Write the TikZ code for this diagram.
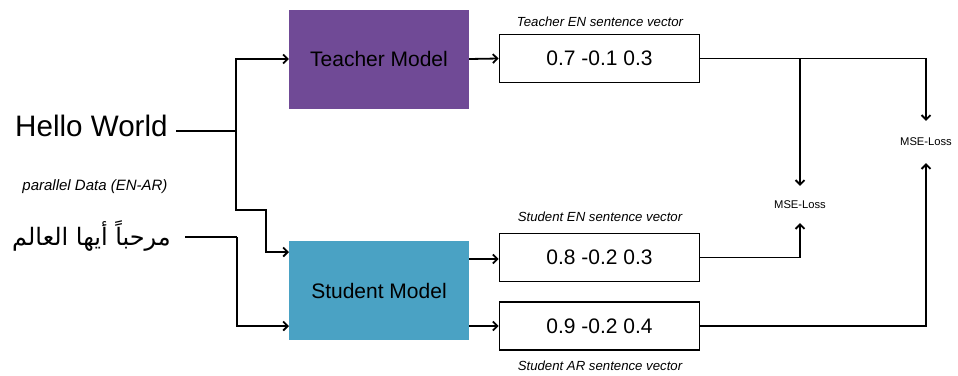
\documentclass[tikz,border=0pt]{standalone}
\usepackage{fontspec}
\setmainfont{Liberation Sans}
\newfontfamily\arabicfont[Script=Arabic]{DejaVu Sans}
\TeXXeTstate=1
\usetikzlibrary{arrows.meta}
\definecolor{teachcol}{RGB}{112,74,150}
\definecolor{studcol}{RGB}{74,162,196}
\tikzset{
  modelbox/.style={minimum width=180pt, minimum height=99pt, inner sep=0pt, font=\fontsize{21}{24}\selectfont},
  vecbox/.style={draw=black, line width=1.8pt, fill=white, minimum width=200pt, minimum height=48pt, inner sep=0pt, font=\fontsize{21}{24}\selectfont},
  caption/.style={font=\fontsize{13.2}{15}\selectfont\itshape, inner sep=0pt},
  lossnode/.style={font=\fontsize{11.2}{13}\selectfont, inner sep=0pt, minimum width=50pt},
  conn/.style={line width=1.8pt},
  arr/.style={conn, -{Straight Barb[length=4.5pt,width=9pt,line width=1.8pt]}}
}
\begin{document}
\begin{tikzpicture}[x=1pt,y=-1pt]
\useasboundingbox (0,0) rectangle (958,375);
% inputs
\node[anchor=base west, inner sep=0pt, font=\fontsize{29.6}{34}\selectfont] (hw) at (15,136) {Hello World};
\node[anchor=center, inner sep=0pt, font=\fontsize{15}{18}\selectfont\itshape] (pd) at (95,187) {parallel Data (EN-AR)};
\node[anchor=east, inner sep=0pt, font=\fontsize{24}{28}\selectfont] (ar) at (171,236) {\arabicfont\beginR مرحباً أيها العالم\endR};
% models
\node[modelbox, fill=teachcol] (tm) at (379,59) {Teacher Model};
\node[modelbox, fill=studcol] (sm) at (379,290.5) {Student Model};
% vectors
\node[vecbox] (tv) at (599.5,58.5) {0.7 -0.1 0.3};
\node[vecbox] (sv) at (599.5,257.5) {0.8 -0.2 0.3};
\node[vecbox] (av) at (599.5,326) {0.9 -0.2 0.4};
\node[caption] (tvc) at (600,22) {Teacher EN sentence vector};
\node[caption] (svc) at (600,217) {Student EN sentence vector};
\node[caption] (avc) at (600,366) {Student AR sentence vector};
% losses
\node[lossnode, minimum height=37pt] (l1) at (800,204.5) {MSE-Loss};
\node[lossnode, minimum height=42pt] (l2) at (926,142) {MSE-Loss};
% coordinates
\coordinate (hwout) at (176,131);
\coordinate (j1) at (236,131);
\coordinate (j2) at (266,210);
\coordinate (sin1) at (289,252);
\coordinate (arout) at (185,237);
\coordinate (j3) at (237,237);
\coordinate (sin2) at (289,326);
% input connectors
\draw[conn] (hwout) -- (j1);
\draw[arr] (j1) |- (tm.west);
\draw[arr] (j1) |- (j2) |- (sin1);
\draw[conn] (arout) -- (j3);
\draw[arr] (j3) |- (sin2);
% model to vectors
\draw[arr] (tm.east) -- (tv.west);
\draw[arr] (sm.east |- 0,259) -- (sv.west |- 0,259);
\draw[arr] (sm.east |- av.west) -- (av.west);
% vectors to losses
\draw[arr] (tv.east) -| (l2.north);
\draw[arr] (l1.north |- tv.east) -- (l1.north);
\draw[arr] (sv.east) -| (l1.south);
\draw[arr] (av.east) -| (l2.south);
\end{tikzpicture}
\end{document}
